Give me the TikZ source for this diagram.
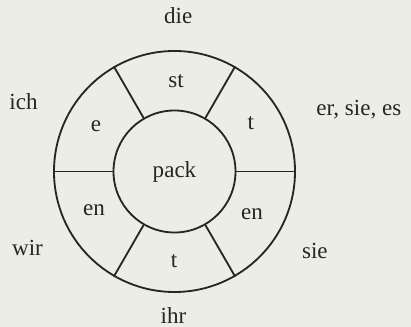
\documentclass[tikz,border=0pt]{standalone}
\usepackage{fontspec}
\setmainfont{Liberation Serif}
\usetikzlibrary{positioning}
\definecolor{paper}{RGB}{237,237,232}
\definecolor{ink}{RGB}{40,37,35}

\begin{document}
\begin{tikzpicture}[
  ring/.style={circle, draw=ink, line width=1.3pt, inner sep=0pt},
  divider/.style={draw=ink, line width=1.3pt},
  lbl/.style={anchor=base, inner sep=0pt, text=ink, font=\fontsize{16.4}{20}\selectfont}
]
\fill[paper] (-4.3625,-3.8875) rectangle (5.9125,4.2875);
\useasboundingbox (-4.3625,-3.8875) rectangle (5.9125,4.2875);

\node[ring, minimum size=6.025cm] (outer) at (0,0) {};
\node[ring, minimum size=3.05cm, text=ink, font=\fontsize{16.4}{20}\selectfont] (inner) at (0,0) {pack};
\foreach \a in {0,60,...,300}
  \draw[divider] (inner.\a) -- (outer.\a);

% endings
\node[lbl] (st) at (0.04, 2.105) {st};
\node[lbl] (tr) at (1.91, 1.055) {t};
\node[lbl] (e) at (-1.96, 1.01) {e};
\node[lbl] (enl) at (-2.01, -1.09) {en};
\node[lbl] (enr) at (1.94, -1.21) {en};
\node[lbl] (tb) at (-0.01, -2.395) {t};

% pronouns
\node[lbl] (die) at (0.095, 3.705) {die};
\node[lbl] (ich) at (-3.775, 1.555) {ich};
\node[lbl] (ersiees) at (4.61, 1.41) {er, sie, es};
\node[lbl] (wir) at (-3.675, -2.11) {wir};
\node[lbl] (sie) at (3.51, -2.17) {sie};
\node[lbl] (ihr) at (-0.025, -3.79) {ihr};

\end{tikzpicture}
\end{document}
